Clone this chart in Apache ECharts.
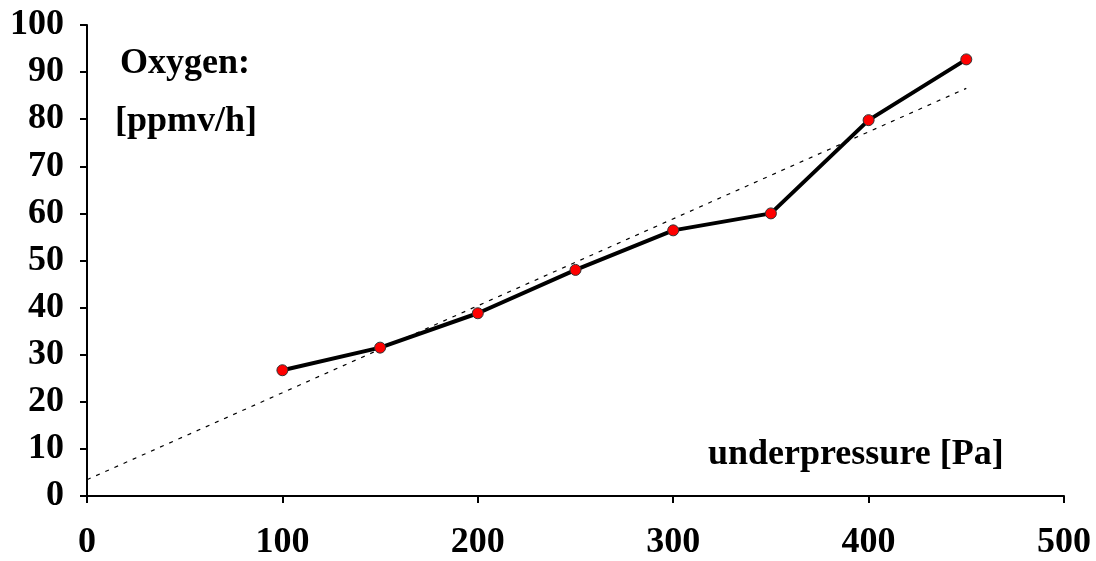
<!DOCTYPE html>
<html>
<head>
<meta charset="utf-8">
<script src="https://cdn.jsdelivr.net/npm/echarts@6/dist/echarts.min.js"></script>
<style>
  html, body { margin: 0; padding: 0; background: #fff; }
  #chart { width: 1096px; height: 561px; }
</style>
</head>
<body>
<div id="chart"></div>
<script>
// Underpressure [Pa] vs. oxygen ingress rate [ppmv/h]
const pressure = [100, 150, 200, 250, 300, 350, 400, 450];
const oxygen = [26.7, 31.5, 38.8, 48.0, 56.4, 60.0, 79.8, 92.7];
const xTicks = [0, 100, 200, 300, 400, 500];
const yTicks = [0, 10, 20, 30, 40, 50, 60, 70, 80, 90, 100];

// Least-squares linear trend through the measured points, drawn from 0 to the last x
function linearTrend(xs, ys) {
  const n = xs.length;
  const mx = xs.reduce((a, b) => a + b, 0) / n;
  const my = ys.reduce((a, b) => a + b, 0) / n;
  let sxy = 0, sxx = 0;
  for (let i = 0; i < n; i++) {
    sxy += (xs[i] - mx) * (ys[i] - my);
    sxx += (xs[i] - mx) * (xs[i] - mx);
  }
  const slope = sxy / sxx;
  const intercept = my - slope * mx;
  const x0 = 0, x1 = xs[n - 1];
  return [[x0, intercept + slope * x0], [x1, intercept + slope * x1]];
}

const font = '"Liberation Serif", "Times New Roman", serif';
const chart = echarts.init(document.getElementById('chart'));
chart.setOption({
  animation: false,
  backgroundColor: '#fff',
  grid: { left: 87, right: 32, top: 25, bottom: 63 },
  xAxis: {
    type: 'value',
    min: xTicks[0], max: xTicks[xTicks.length - 1], interval: 100,
    splitLine: { show: false },
    axisLine: { lineStyle: { color: '#000', width: 2 } },
    axisTick: { show: true, length: 7, inside: false, lineStyle: { color: '#000', width: 2 } },
    axisLabel: { color: '#000', fontFamily: font, fontWeight: 'bold', fontSize: 36, margin: 29 }
  },
  yAxis: {
    type: 'value',
    min: yTicks[0], max: yTicks[yTicks.length - 1], interval: 10,
    splitLine: { show: false },
    axisLine: { show: true, lineStyle: { color: '#000', width: 2 } },
    axisTick: { show: true, length: 7, inside: false, lineStyle: { color: '#000', width: 2 } },
    axisLabel: { color: '#000', fontFamily: font, fontWeight: 'bold', fontSize: 36, margin: 23 }
  },
  graphic: [
    { type: 'text', left: 120, top: 46, style: { text: 'Oxygen:', fill: '#000', font: 'bold 36px ' + font } },
    { type: 'text', left: 115, top: 104, style: { text: '[ppmv/h]', fill: '#000', font: 'bold 36px ' + font } },
    { type: 'text', left: 708, top: 437, style: { text: 'underpressure [Pa]', fill: '#000', font: 'bold 36px ' + font } }
  ],
  series: [
    {
      type: 'line',
      data: linearTrend(pressure, oxygen),
      symbol: 'none',
      lineStyle: { color: '#000', width: 1.2, type: [4, 6] },
      z: 1
    },
    {
      type: 'line',
      data: pressure.map((p, i) => [p, oxygen[i]]),
      symbol: 'circle',
      symbolSize: 11,
      showAllSymbol: true,
      lineStyle: { color: '#000', width: 4 },
      itemStyle: { color: '#ff0000', borderColor: '#333', borderWidth: 1 },
      z: 2
    }
  ]
});
</script>
</body>
</html>
